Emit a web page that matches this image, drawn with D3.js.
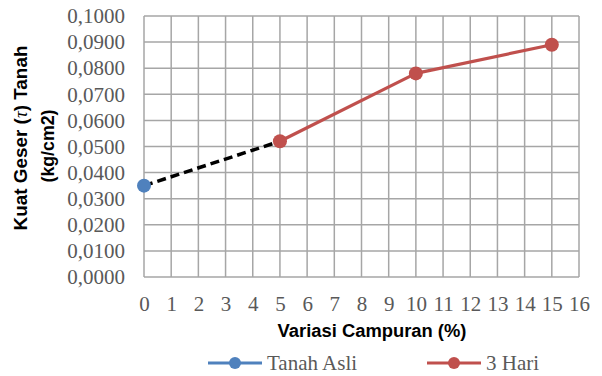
<!DOCTYPE html>
<html><head><meta charset="utf-8">
<script src="https://cdn.jsdelivr.net/npm/d3@7"></script>
<style>body{margin:0;background:#fff}svg{display:block}</style>
</head><body>
<script>
const xTicks = d3.range(0, 17);
const yTicks = d3.range(0, 0.10001, 0.01);
const tanahAsliX = [0];
const tanahAsliY = [0.035];
const hari3X = [5, 10, 15];
const hari3Y = [0.052, 0.078, 0.089];
const connectorX = [0, 5];
const connectorY = [0.035, 0.052];
const seriesNames = ["Tanah Asli", "3 Hari"];
const seriesColors = ["#4f81bd", "#c0504d"];

const W = 602, H = 376;
const svg = d3.select("body").append("svg").attr("width", W).attr("height", H);
const x = d3.scaleLinear().domain([0, 16]).range([144, 579]);
const y = d3.scaleLinear().domain([0, 0.1]).range([277, 16]);
const fmt = v => d3.format(".4f")(v).replace(".", ",");
const grid = "#a6a6a6";
const tickFont = 21;

function fitWidth(sel, target) {
  const w = sel.node().getComputedTextLength();
  const fs = parseFloat(sel.attr("font-size"));
  sel.attr("font-size", fs * target / w);
}

// grid
svg.append("g").selectAll("line").data(yTicks).join("line")
  .attr("x1", x(0)).attr("x2", x(16)).attr("y1", d => y(d)).attr("y2", d => y(d))
  .attr("stroke", grid).attr("stroke-width", 1.5);
svg.append("g").selectAll("line").data(xTicks).join("line")
  .attr("y1", y(0)).attr("y2", y(0.1)).attr("x1", d => x(d)).attr("x2", d => x(d))
  .attr("stroke", grid).attr("stroke-width", 1.5);

// axes (labels only)
const yAxis = svg.append("g").attr("transform", `translate(${x(0)},0)`)
  .call(d3.axisLeft(y).tickValues(yTicks).tickFormat(fmt).tickSize(0).tickPadding(19));
const xAxis = svg.append("g").attr("transform", `translate(0,${y(0)})`)
  .call(d3.axisBottom(x).tickValues(xTicks).tickFormat(d3.format("d")).tickSize(0).tickPadding(19));
[yAxis, xAxis].forEach(a => {
  a.select(".domain").remove();
  a.selectAll("text").attr("font-family", "Liberation Serif").attr("font-size", tickFont).attr("fill", "#595959");
});

// connector dashed
const line = d3.line().x(d => x(d[0])).y(d => y(d[1]));
svg.append("path").datum(connectorX.map((v, i) => [v, connectorY[i]]))
  .attr("d", line).attr("fill", "none").attr("stroke", "#000").attr("stroke-width", 3.5)
  .attr("stroke-dasharray", "9,5");

// series
const series = [
  {name: seriesNames[0], color: seriesColors[0], pts: tanahAsliX.map((v, i) => [v, tanahAsliY[i]])},
  {name: seriesNames[1], color: seriesColors[1], pts: hari3X.map((v, i) => [v, hari3Y[i]])}
];
series.forEach(s => {
  svg.append("path").datum(s.pts).attr("d", line).attr("fill", "none")
    .attr("stroke", s.color).attr("stroke-width", 3.2).attr("stroke-linejoin", "round");
  svg.append("g").selectAll("circle").data(s.pts).join("circle")
    .attr("cx", d => x(d[0])).attr("cy", d => y(d[1])).attr("r", 7).attr("fill", s.color);
});

// axis titles
const xt = svg.append("text").attr("x", 372).attr("y", 337).attr("text-anchor", "middle")
  .attr("font-family", "Liberation Sans").attr("font-weight", "bold").attr("font-size", 16)
  .attr("fill", "#000").text("Variasi Campuran (%)");
fitWidth(xt, 189);
const yt = svg.append("text").attr("transform", "translate(27,138) rotate(-90)")
  .attr("text-anchor", "middle").attr("font-family", "Liberation Sans")
  .attr("font-weight", "bold").attr("font-size", 16).attr("fill", "#000");
yt.append("tspan").attr("x", 0).attr("dy", 0).text("Kuat Geser (");
yt.append("tspan").attr("font-family", "Liberation Serif").attr("font-style", "italic").attr("font-weight", "normal").text("τ");
yt.append("tspan").text(") Tanah");
fitWidth(yt, 185);
const yt2 = svg.append("text").attr("transform", "translate(54,146) rotate(-90)")
  .attr("text-anchor", "middle").attr("font-family", "Liberation Sans")
  .attr("font-weight", "bold").attr("font-size", 16).attr("fill", "#000").text("(kg/cm2)");
fitWidth(yt2, 73);

// legend
const legX = [208, 427];
series.forEach((s, i) => {
  const g = svg.append("g").attr("transform", `translate(${legX[i]},363)`);
  g.append("line").attr("x1", 0).attr("x2", 54).attr("stroke", s.color).attr("stroke-width", 3.2);
  g.append("circle").attr("cx", 27).attr("r", 6).attr("fill", s.color);
  g.append("text").attr("x", 59).attr("y", 7).attr("font-family", "Liberation Serif")
    .attr("font-size", tickFont).attr("fill", "#595959").text(s.name);
});
</script>
</body></html>
